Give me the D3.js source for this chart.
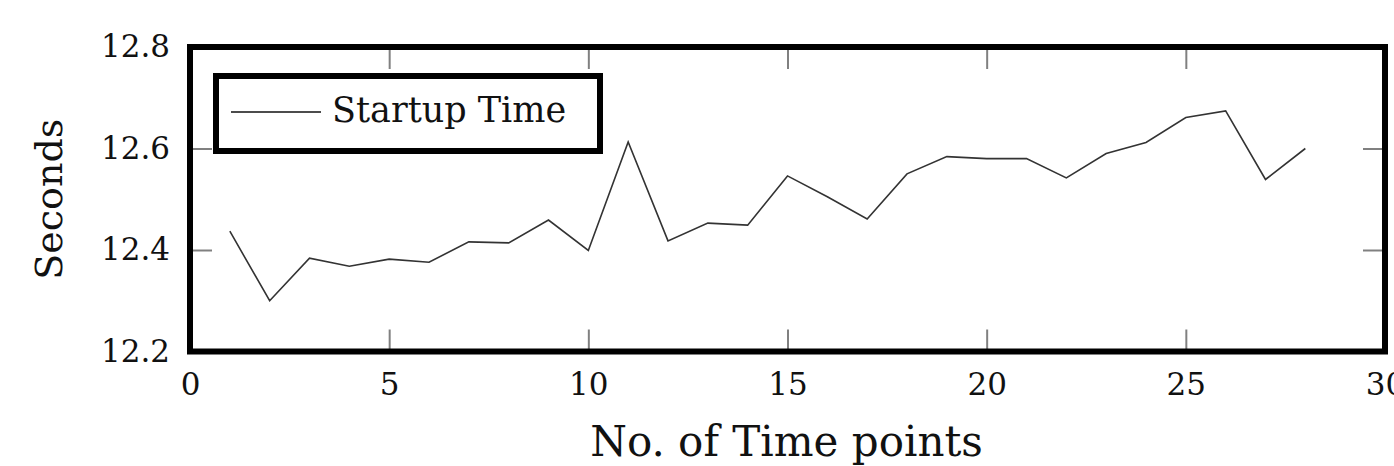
<!DOCTYPE html>
<html>
<head>
<meta charset="utf-8">
<script src="https://cdn.jsdelivr.net/npm/d3@7"></script>
<style>
  body { margin: 0; background: #fff; }
  svg { display: block; font-family: "DejaVu Serif", serif; }
</style>
</head>
<body>
<div id="chart"></div>
<script>
// time points and measured startup time (seconds)
const timePoints = [1, 2, 3, 4, 5, 6, 7, 8, 9, 10, 11, 12, 13, 14, 15, 16, 17, 18, 19, 20, 21, 22, 23, 24, 25, 26, 27, 28];
const startupTime = [12.437, 12.300, 12.384, 12.368, 12.382, 12.376, 12.416, 12.414, 12.459, 12.399,
                     12.613, 12.418, 12.453, 12.449, 12.546, 12.505, 12.461, 12.550, 12.584, 12.580,
                     12.580, 12.542, 12.590, 12.612, 12.661, 12.674, 12.539, 12.600];
const xTicks = [0, 5, 10, 15, 20, 25, 30];
const yTicks = [12.2, 12.4, 12.6, 12.8];
const seriesName = 'Startup Time';

const W = 1394, H = 466;
const margin = { top: 47, right: 9, bottom: 114.5, left: 190 };
const width = W - margin.left - margin.right;
const height = H - margin.top - margin.bottom;

const svg = d3.select('#chart').append('svg')
    .attr('width', W).attr('height', H);

const g = svg.append('g')
    .attr('transform', `translate(${margin.left},${margin.top})`);

const x = d3.scaleLinear().domain([0, 30]).range([0, width]);
const y = d3.scaleLinear().domain([12.2, 12.8]).range([height, 0]);

const TICK = 22;
const styleAxis = sel => {
    sel.attr('font-family', '"DejaVu Serif", serif').attr('font-size', null);
    sel.select('.domain').remove();
    sel.selectAll('.tick line').attr('stroke', '#808080').attr('stroke-width', 2);
    sel.selectAll('.tick text').attr('fill', '#111').style('font-size', '31px');
};

g.append('g').attr('transform', `translate(0,${height})`)
    .call(d3.axisBottom(x).tickValues(xTicks).tickSize(-TICK).tickPadding(21).tickFormat(d3.format('d')))
    .call(styleAxis);
g.append('g')
    .call(d3.axisTop(x).tickValues(xTicks).tickSize(-TICK).tickFormat(''))
    .call(styleAxis);
g.append('g')
    .call(d3.axisLeft(y).tickValues(yTicks).tickSize(-TICK).tickPadding(20).tickFormat(d3.format('.1f')))
    .call(styleAxis);
g.append('g').attr('transform', `translate(${width},0)`)
    .call(d3.axisRight(y).tickValues(yTicks).tickSize(-TICK).tickFormat(''))
    .call(styleAxis);

// series line
const line = d3.line()
    .x((d, i) => x(timePoints[i]))
    .y(d => y(d));

g.append('path')
    .datum(startupTime)
    .attr('fill', 'none')
    .attr('stroke', '#333')
    .attr('stroke-width', 1.6)
    .attr('d', line);

// frame
g.append('rect')
    .attr('width', width).attr('height', height)
    .attr('fill', 'none').attr('stroke', '#000').attr('stroke-width', 6);

// legend
const legend = g.append('g').attr('transform', 'translate(26,29)');
legend.append('rect')
    .attr('width', 384).attr('height', 75)
    .attr('fill', '#fff').attr('stroke', '#000').attr('stroke-width', 6);
legend.append('line')
    .attr('x1', 15).attr('x2', 105).attr('y1', 36).attr('y2', 36)
    .attr('stroke', '#111').attr('stroke-width', 1.6);
legend.append('text')
    .attr('x', 116).attr('y', 46)
    .attr('fill', '#111')
    .style('font-size', '35px')
    .text(seriesName);

// axis titles
svg.append('text')
    .attr('x', margin.left + width / 2 - 1)
    .attr('y', 456)
    .attr('text-anchor', 'middle')
    .attr('fill', '#111')
    .style('font-size', '42px')
    .text('No. of Time points');

svg.append('text')
    .attr('transform', `translate(62,${margin.top + height / 2}) rotate(-90)`)
    .attr('text-anchor', 'middle')
    .attr('fill', '#111')
    .style('font-size', '38px')
    .text('Seconds');
</script>
</body>
</html>
